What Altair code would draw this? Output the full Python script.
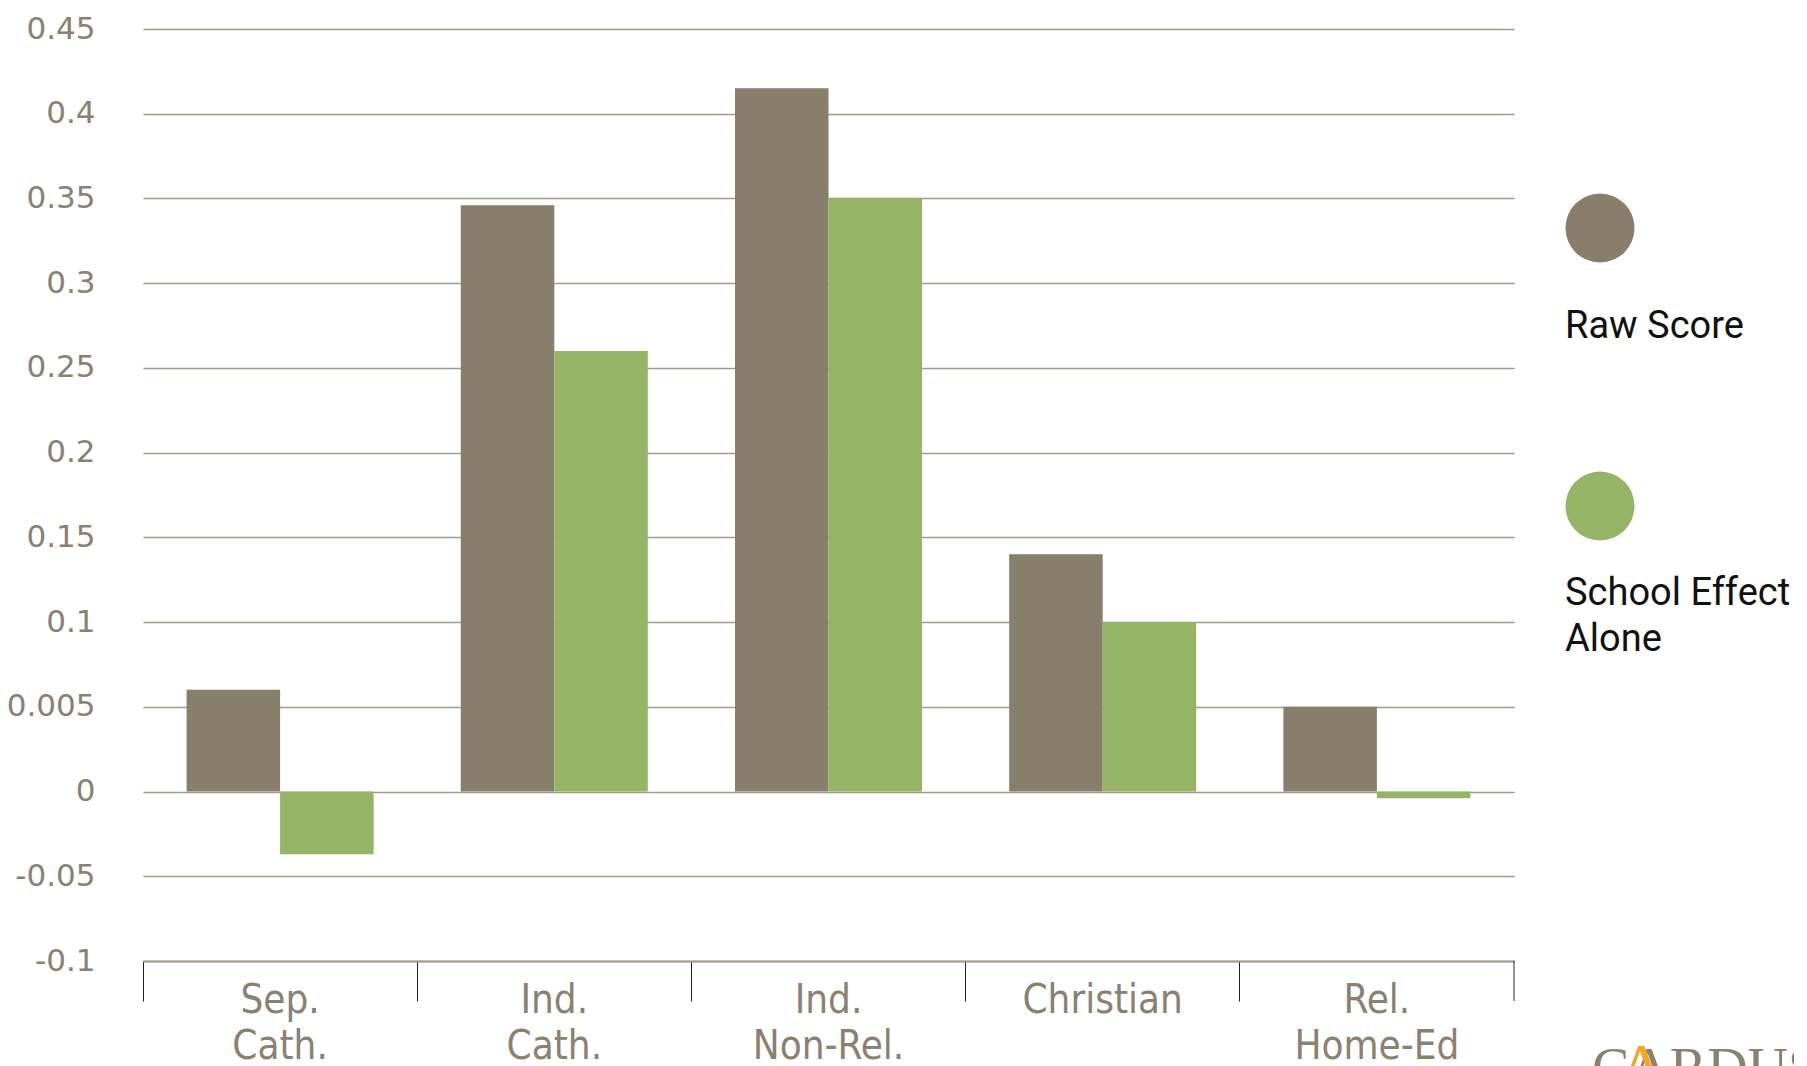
import altair as alt
import pandas as pd

categories = ["Sep. Cath.", "Ind. Cath.", "Ind. Non-Rel.", "Christian", "Rel. Home-Ed"]
series = ["Raw Score", "School Effect Alone"]
legend_labels = ["Raw Score", "School Effect\nAlone"]
raw_score = [0.06, 0.346, 0.415, 0.14, 0.05]
school_effect = [-0.037, 0.26, 0.35, 0.10, -0.004]
y_ticks = [-0.1, -0.05, 0, 0.05, 0.1, 0.15, 0.2, 0.25, 0.3, 0.35, 0.4, 0.45]
colors = ["#877e6b", "#96b466"]
logo_text = ["CARDUS"]

rows = []
for c, r, s in zip(categories, raw_score, school_effect):
    rows.append({"category": c, "series": series[0], "value": r})
    rows.append({"category": c, "series": series[1], "value": s})
df = pd.DataFrame(rows)
legend_df = pd.DataFrame({"series": series, "label": legend_labels})

label_col = "#8a8171"
grid_col = "#a39a8c"
color_scale = alt.Scale(domain=series, range=colors)

bars = alt.Chart(df).mark_bar().encode(
    x=alt.X(
        "category:N",
        sort=categories,
        title=None,
        scale=alt.Scale(paddingInner=0, paddingOuter=0),
        axis=alt.Axis(
            labelAngle=0,
            labelExpr="split(datum.label, ' ')",
            labelFont="Liberation Sans Narrow, DejaVu Sans Condensed, Roboto Condensed, sans-serif",
            labelFontSize=40,
            labelLineHeight=46,
            labelColor=label_col,
            labelPadding=-21,
            labelBaseline="top",
            tickSize=40,
            tickColor="#222222",
            tickWidth=1,
            bandPosition=0,
            domainColor=grid_col,
            domainWidth=2,
            grid=False,
        ),
    ),
    xOffset=alt.XOffset(
        "series:N",
        sort=series,
        scale=alt.Scale(paddingInner=0, paddingOuter=0.466),
    ),
    y=alt.Y(
        "value:Q",
        title=None,
        scale=alt.Scale(domain=[-0.1, 0.45], nice=False, zero=False),
        axis=alt.Axis(
            values=y_ticks,
            labelExpr="abs(datum.value - 0.05) < 1e-9 ? '0.005' : '' + datum.value",
            labelFont="DejaVu Sans",
            labelFontSize=31,
            labelColor=label_col,
            labelPadding=48,
            ticks=False,
            tickSize=0,
            domain=False,
            grid=True,
            gridColor=grid_col,
            gridWidth=1.5,
        ),
    ),
    color=alt.Color("series:N", sort=series, scale=color_scale, legend=None),
)

edge = pd.DataFrame({"category": [categories[-1]]})
right_tick = alt.Chart(edge).mark_rule(color="#222222", strokeWidth=1).encode(
    x=alt.value("width"),
    y=alt.value("height"),
    y2=alt.value(alt.ExprRef("height + 40")),
)

legend_dots = alt.Chart(legend_df).mark_circle(size=4761, opacity=1, xOffset=86).encode(
    x=alt.value("width"),
    y=alt.Y("series:N", sort=series, axis=None,
            scale=alt.Scale(type="point", domain=series, range=[199, 477], padding=0)),
    color=alt.Color("series:N", sort=series, scale=color_scale, legend=None),
)

legend_text = alt.Chart(legend_df).mark_text(
    align="left", baseline="alphabetic", dx=51, lineBreak="\n",
    font="Roboto", fontSize=38, color="#111111", lineHeight=46,
).encode(
    x=alt.value("width"),
    y=alt.Y("series:N", sort=series, axis=None,
            scale=alt.Scale(type="point", domain=series, range=[309, 576], padding=0)),
    text="label:N",
)

logo_df = pd.DataFrame({"logo": logo_text})
logo = alt.Chart(logo_df).mark_text(
    align="left", baseline="alphabetic", dx=78, dy=0,
    font="Liberation Serif", fontSize=56, color="#8a8171",
).encode(
    x=alt.value("width"),
    y=alt.value(alt.ExprRef("height + 126")),
    text="logo:N",
)
logo_caret = alt.Chart(logo_df).mark_text(
    align="center", baseline="alphabetic", dx=128,
    font="Liberation Serif", fontSize=66, color="#f5a623",
).encode(
    x=alt.value("width"),
    y=alt.value(alt.ExprRef("height + 128")),
    text=alt.value("\u039b"),
)

chart = alt.layer(bars, right_tick, legend_dots, legend_text, logo, logo_caret).resolve_scale(
    y="independent", color="shared"
).properties(
    width=1371,
    height=932,
    autosize=alt.AutoSizeParams(type="none"),
    padding={"left": 135, "top": 21, "right": 280, "bottom": 120},
    background="white",
).configure_view(stroke=None)

chart.save("out.html", embed_options={"renderer": "svg", "actions": False})
